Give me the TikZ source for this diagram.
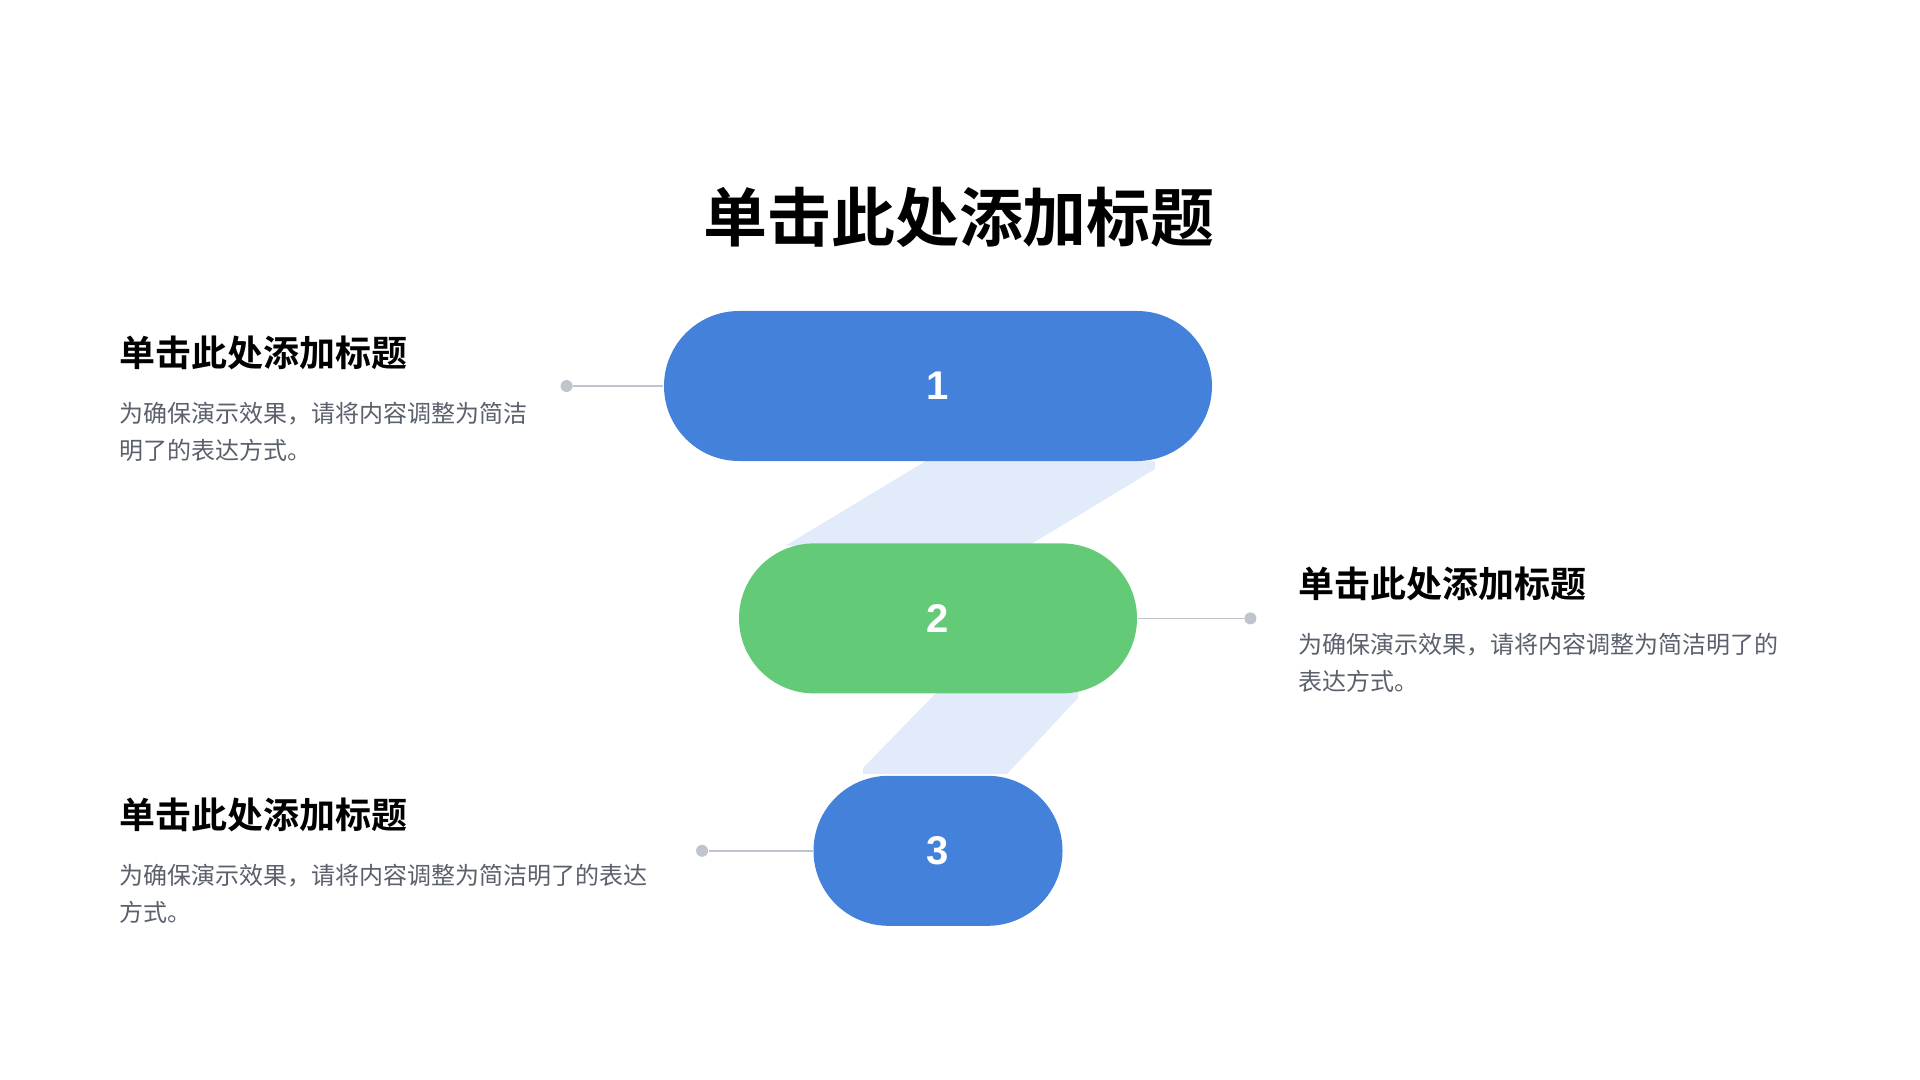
\documentclass[tikz,border=0pt]{standalone}
\usepackage{fontspec}
\setmainfont{Liberation Sans}
\newfontfamily\cjk[BoldFont={Noto Sans CJK SC Bold}]{Noto Sans CJK SC}
\usepackage{tikz}
\usetikzlibrary{positioning}
\usetikzlibrary{backgrounds}
\definecolor{pillblue}{HTML}{4481DB}
\definecolor{pillgreen}{HTML}{63CB78}
\definecolor{bandblue}{HTML}{E2EBF9}
\definecolor{linkgray}{HTML}{C0C4CC}
\definecolor{bodygray}{HTML}{5A606C}
\tikzstyle{pill} = [rounded corners=0.75cm, minimum height=1.5cm, inner sep=0pt, text=white, font=\fontsize{11.4pt}{13pt}\selectfont\bfseries]
\tikzstyle{dot} = [circle, fill=linkgray, minimum size=0.12cm, inner sep=0pt]
\tikzstyle{link} = [draw=linkgray, line width=0.45pt]
\tikzstyle{heading} = [inner sep=0pt, anchor=west, font=\cjk\bfseries\fontsize{10.24pt}{12pt}\selectfont]
\tikzstyle{body} = [inner sep=0pt, align=left, text=bodygray, font=\cjk\fontsize{6.83pt}{10.4pt}\selectfont]

\begin{document}
\begin{tikzpicture}
    \useasboundingbox (0,0) rectangle (19.2,-10.8);
    \node [inner sep=0pt, font=\cjk\bfseries\fontsize{18.2pt}{22pt}\selectfont] (Title) at (9.59,-2.17) {单击此处添加标题};
    %% Steps
    \node [pill, fill=pillblue, minimum width=5.48cm] (P1) at (9.38,-3.86) {1};
    \node [pill, fill=pillgreen, minimum width=3.98cm, below=0.81cm of P1] (P2) {2};
    \node [pill, fill=pillblue, minimum width=2.49cm, below=0.81cm of P2] (P3) {3};
    %% Bands
    \begin{scope}[on background layer]
      \fill [white] (0,0) rectangle (19.2,-10.8);
      \fill [bandblue] (9.26,-4.61) -- (11.55,-4.61) -- (11.55,-4.69) -- (10.28,-5.46) -- (7.85,-5.46) -- cycle;
      \fill [bandblue] (9.37,-6.92) -- (10.78,-6.92) -- (10.78,-6.98) -- (10.07,-7.74) -- (8.63,-7.74) -- (8.63,-7.68) -- cycle;
    \end{scope}
    %% Links
    \node [dot, left=0.9cm of P1] (D1) {};
    \node [dot, right=1.06cm of P2] (D2) {};
    \node [dot, left=1.04cm of P3] (D3) {};
    \path [link] (D1) -- (P1);
    \path [link] (P2) -- (D2);
    \path [link] (D3) -- (P3);
    %% Texts
    \node [heading] (H1) at (1.19,-3.53) {单击此处添加标题};
    \node [body, below=0.31cm of H1.south west, anchor=north west] (B1) {为确保演示效果，请将内容调整为简洁\\明了的表达方式。};
    \node [heading] (H2) at (12.98,-5.84) {单击此处添加标题};
    \node [body, below=0.31cm of H2.south west, anchor=north west] (B2) {为确保演示效果，请将内容调整为简洁明了的\\表达方式。};
    \node [heading] (H3) at (1.19,-8.15) {单击此处添加标题};
    \node [body, below=0.31cm of H3.south west, anchor=north west] (B3) {为确保演示效果，请将内容调整为简洁明了的表达\\方式。};
\end{tikzpicture}
\end{document}
